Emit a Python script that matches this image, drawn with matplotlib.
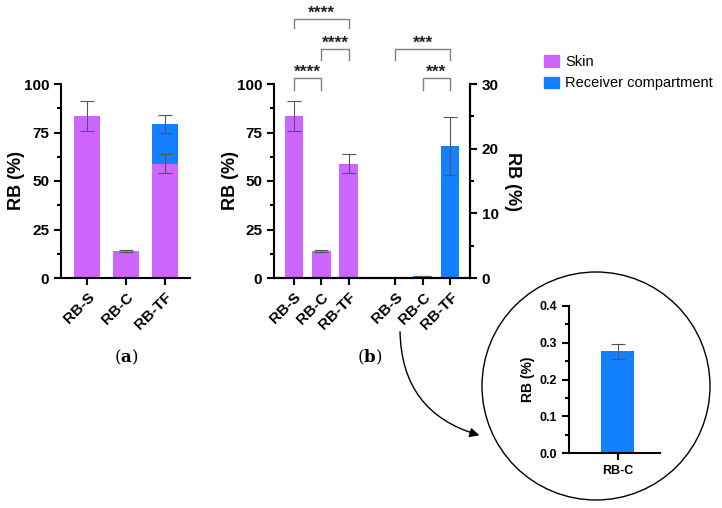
import numpy as np
import matplotlib
matplotlib.use('Agg')
import matplotlib.pyplot as plt
from matplotlib.patches import Patch, Ellipse, FancyArrowPatch
from matplotlib.ticker import MultipleLocator, FormatStrFormatter

plt.rcParams['font.family'] = ['Liberation Sans', 'DejaVu Sans']
plt.rcParams['font.weight'] = 'bold'
plt.rcParams['axes.labelweight'] = 'bold'
plt.rcParams['mathtext.fontset'] = 'dejavuserif'

# data
groups = ['RB-S', 'RB-C', 'RB-TF']
skin_mean = [83.5, 13.8, 59.0]
skin_sd = [7.5, 0.5, 5.0]
recv_mean = [0.0, 0.277, 20.4]
recv_sd = [0.0, 0.02, 4.5]
legend_labels = ['Skin', 'Receiver compartment']

SKIN = '#CC66FF'
RECV = '#1380FF'
ERR = '#555555'

W, H = 722, 508
fig = plt.figure(figsize=(W / 100, H / 100), dpi=100)


def px_axes(x0, y0, x1, y1):
    # pixel box (top-left origin) -> figure axes
    return fig.add_axes([x0 / W, 1 - y1 / H, (x1 - x0) / W, (y1 - y0) / H])


def style(ax, right=False, size=11):
    ax.spines['top'].set_visible(False)
    if not right:
        ax.spines['right'].set_visible(False)
    for s in ax.spines.values():
        s.set_linewidth(1.5)
    ax.tick_params(width=1.5, length=5, labelsize=size)
    ax.tick_params(which='minor', width=1.5, length=3)


ekw = dict(ecolor=ERR, elinewidth=0.8, capsize=5, capthick=0.8)

# ---- panel (a) stacked
axa = px_axes(61, 84, 190, 278)
xa = np.arange(len(groups))
axa.bar(xa, skin_mean, 0.67, color=SKIN, yerr=skin_sd, error_kw=ekw)
axa.bar(xa, recv_mean, 0.67, bottom=skin_mean, color=RECV)
top = np.array(skin_mean) + np.array(recv_mean)
m = np.array(recv_mean) > 1
axa.errorbar(xa[m], top[m], yerr=np.array(recv_sd)[m], fmt='none', **ekw)
axa.set_xlim(-0.68, 2.65)
axa.set_ylim(0, 100)
axa.yaxis.set_major_locator(MultipleLocator(25))
axa.yaxis.set_minor_locator(MultipleLocator(12.5))
axa.set_xticks(xa)
axa.set_xticklabels(groups, rotation=45, ha='right', rotation_mode='anchor')
axa.set_ylabel('RB (%)', fontsize=13, labelpad=-1)
style(axa)

# ---- panel (b)
axb = px_axes(274, 84, 470, 278)
xs = np.arange(3)
xr = xs + 3.71
axb.bar(xs, skin_mean, 0.68, color=SKIN, yerr=skin_sd, error_kw=ekw)
axb.set_xlim(-0.73, 6.44)
axb.set_ylim(0, 100)
axb.yaxis.set_major_locator(MultipleLocator(25))
axb.yaxis.set_minor_locator(MultipleLocator(12.5))
axb.set_xticks(np.concatenate([xs, xr]))
axb.set_xticklabels(groups + groups, rotation=45, ha='right', rotation_mode='anchor')
axb.set_ylabel('RB (%)', fontsize=13, labelpad=-2)
style(axb, right=True)

axr = axb.twinx()
axr.bar(xr, recv_mean, 0.68, color=RECV, yerr=recv_sd, error_kw=ekw)
axr.set_ylim(0, 30)
axr.yaxis.set_major_locator(MultipleLocator(10))
axr.yaxis.set_minor_locator(MultipleLocator(5))
axr.set_ylabel('RB (%)', fontsize=13, rotation=270, labelpad=16)
style(axr, right=True)
axr.spines['left'].set_visible(False)


def bracket(ax, x0, x1, y, leg, text):
    ax.plot([x0, x0, x1, x1], [y - leg, y, y, y - leg], color='#808080',
            lw=1, clip_on=False)
    ax.text((x0 + x1) / 2, y - 1.0, text, ha='center', va='bottom',
            fontsize=12.5, color='#222222', clip_on=False)


bracket(axb, xs[0], xs[2], 133.5, 4.6, '****')
bracket(axb, xs[1], xs[2], 118.0, 5.6, '****')
bracket(axb, xs[0], xs[1], 103.1, 6.2, '****')
bracket(axb, xr[0], xr[2], 118.0, 5.6, '***')
bracket(axb, xr[1], xr[2], 103.1, 6.2, '***')

# ---- legend
handles = [Patch(color=SKIN), Patch(color=RECV)]
fig.legend(handles, legend_labels, loc='upper left',
           bbox_to_anchor=(531 / W, 1 - 42 / H), frameon=False,
           handlelength=1.0, handleheight=0.85, handletextpad=0.45,
           labelspacing=0.5, prop={'weight': 'normal', 'size': 10.5})

# ---- zoom circle + inset
fig.patches.append(Ellipse((596 / W, 1 - 386 / H), 228 / W, 228 / H,
                           transform=fig.transFigure, fill=False,
                           edgecolor='black', lw=1))
axi = px_axes(569, 306, 660, 453)
axi.bar([0], [recv_mean[1]], 0.54, color=RECV, yerr=[recv_sd[1]], error_kw=ekw)
axi.set_xlim(-0.8, 0.7)
axi.set_ylim(0, 0.4)
axi.yaxis.set_major_locator(MultipleLocator(0.1))
axi.yaxis.set_minor_locator(MultipleLocator(0.05))
axi.yaxis.set_major_formatter(FormatStrFormatter('%.1f'))
axi.set_xticks([0])
axi.set_xticklabels([groups[1]])
axi.set_ylabel('RB (%)', fontsize=10, labelpad=3)
style(axi, size=9)

arrow = FancyArrowPatch((400 / W, 1 - 329 / H), (482 / W, 1 - 436 / H),
                        transform=fig.transFigure,
                        connectionstyle='arc3,rad=0.38', arrowstyle='-|>',
                        mutation_scale=14, lw=1, color='black')
fig.patches.append(arrow)

# ---- panel captions
for lab, xc in [('a', 126), ('b', 370)]:
    fig.text(xc / W, 1 - 357 / H, '(' + r'$\mathbf{' + lab + '}$' + ')',
             family='DejaVu Serif', weight='normal', fontsize=12,
             ha='center', va='center')

fig.savefig('out.png', dpi=100)
